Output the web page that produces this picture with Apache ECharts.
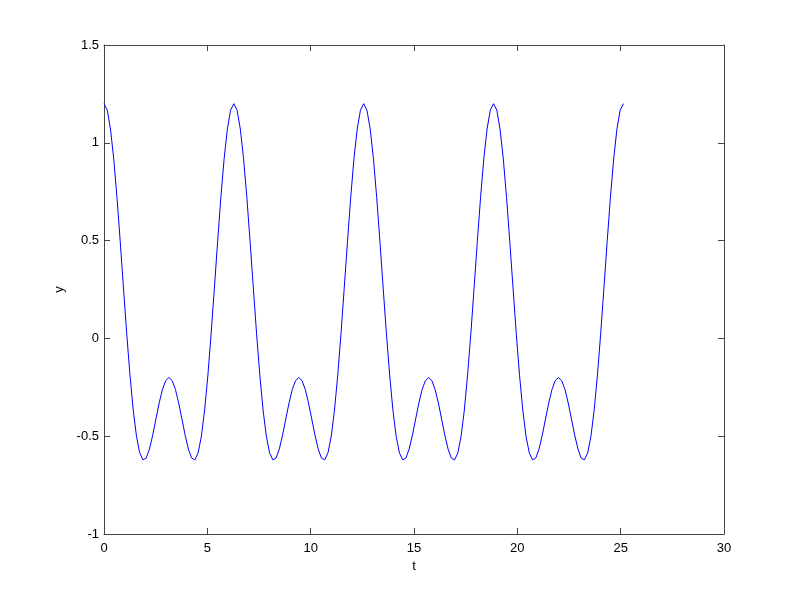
<!DOCTYPE html>
<html>
<head>
<meta charset="utf-8">
<script src="https://cdn.jsdelivr.net/npm/echarts@6/dist/echarts.min.js"></script>
<style>html,body{margin:0;padding:0;background:#fff;}#chart{width:800px;height:601px;}</style>
</head>
<body>
<div id="chart"></div>
<script>
var tValues = [
0.000,0.157,0.314,0.471,0.628,0.785,0.942,1.100,1.257,1.414,
1.571,1.728,1.885,2.042,2.199,2.356,2.513,2.670,2.827,2.985,
3.142,3.299,3.456,3.613,3.770,3.927,4.084,4.241,4.398,4.555,
4.712,4.869,5.027,5.184,5.341,5.498,5.655,5.812,5.969,6.126,
6.283,6.440,6.597,6.754,6.912,7.069,7.226,7.383,7.540,7.697,
7.854,8.011,8.168,8.325,8.482,8.639,8.796,8.954,9.111,9.268,
9.425,9.582,9.739,9.896,10.053,10.210,10.367,10.524,10.681,10.838,
10.996,11.153,11.310,11.467,11.624,11.781,11.938,12.095,12.252,12.409,
12.566,12.723,12.881,13.038,13.195,13.352,13.509,13.666,13.823,13.980,
14.137,14.294,14.451,14.608,14.765,14.923,15.080,15.237,15.394,15.551,
15.708,15.865,16.022,16.179,16.336,16.493,16.650,16.807,16.965,17.122,
17.279,17.436,17.593,17.750,17.907,18.064,18.221,18.378,18.535,18.692,
18.850,19.007,19.164,19.321,19.478,19.635,19.792,19.949,20.106,20.263,
20.420,20.577,20.735,20.892,21.049,21.206,21.363,21.520,21.677,21.834,
21.991,22.148,22.305,22.462,22.619,22.777,22.934,23.091,23.248,23.405,
23.562,23.719,23.876,24.033,24.190,24.347,24.504,24.662,24.819,24.976,
25.133
];
var yValues = [
1.200,1.167,1.070,0.918,0.721,0.495,0.257,0.024,-0.188,-0.366,
-0.500,-0.585,-0.621,-0.612,-0.566,-0.495,-0.412,-0.330,-0.261,-0.216,
-0.200,-0.216,-0.261,-0.330,-0.412,-0.495,-0.566,-0.612,-0.621,-0.585,
-0.500,-0.366,-0.188,0.024,0.257,0.495,0.721,0.918,1.070,1.167,
1.200,1.167,1.070,0.918,0.721,0.495,0.257,0.024,-0.188,-0.366,
-0.500,-0.585,-0.621,-0.612,-0.566,-0.495,-0.412,-0.330,-0.261,-0.216,
-0.200,-0.216,-0.261,-0.330,-0.412,-0.495,-0.566,-0.612,-0.621,-0.585,
-0.500,-0.366,-0.188,0.024,0.257,0.495,0.721,0.918,1.070,1.167,
1.200,1.167,1.070,0.918,0.721,0.495,0.257,0.024,-0.188,-0.366,
-0.500,-0.585,-0.621,-0.612,-0.566,-0.495,-0.412,-0.330,-0.261,-0.216,
-0.200,-0.216,-0.261,-0.330,-0.412,-0.495,-0.566,-0.612,-0.621,-0.585,
-0.500,-0.366,-0.188,0.024,0.257,0.495,0.721,0.918,1.070,1.167,
1.200,1.167,1.070,0.918,0.721,0.495,0.257,0.024,-0.188,-0.366,
-0.500,-0.585,-0.621,-0.612,-0.566,-0.495,-0.412,-0.330,-0.261,-0.216,
-0.200,-0.216,-0.261,-0.330,-0.412,-0.495,-0.566,-0.612,-0.621,-0.585,
-0.500,-0.366,-0.188,0.024,0.257,0.495,0.721,0.918,1.070,1.167,
1.200
];
var xAxisName = 't';
var yAxisName = 'y';

var pts = tValues.map(function (t, i) { return [t, yValues[i]]; });

var font = { fontFamily: 'Liberation Sans, Arial, sans-serif', fontSize: 13, color: '#000' };
var axisLine = { show: true, onZero: false, lineStyle: { color: '#444', width: 1 } };
var tick = { show: true, inside: true, length: 6, lineStyle: { color: '#444', width: 1 } };

var chart = echarts.init(document.getElementById('chart'), null, { renderer: 'canvas' });
chart.setOption({
  animation: false,
  backgroundColor: '#fff',
  grid: { left: 104, right: 76, top: 45, bottom: 67, containLabel: false },
  xAxis: [
    { type: 'value', min: 0, max: 30, interval: 5, position: 'bottom',
      name: xAxisName, nameLocation: 'middle', nameGap: 26,
      nameTextStyle: font,
      axisLine: axisLine, axisTick: tick, splitLine: { show: false },
      axisLabel: Object.assign({ margin: 8 }, font) },
    { type: 'value', min: 0, max: 30, interval: 5, position: 'top',
      axisLine: axisLine, axisTick: tick, splitLine: { show: false },
      axisLabel: { show: false } }
  ],
  yAxis: [
    { type: 'value', min: -1, max: 1.5, interval: 0.5, position: 'left',
      name: yAxisName, nameLocation: 'middle', nameGap: 34,
      nameTextStyle: font,
      axisLine: axisLine, axisTick: tick, splitLine: { show: false },
      axisLabel: Object.assign({ margin: 5 }, font) },
    { type: 'value', min: -1, max: 1.5, interval: 0.5, position: 'right',
      axisLine: axisLine, axisTick: tick, splitLine: { show: false },
      axisLabel: { show: false } }
  ],
  series: [{
    type: 'line', data: pts, xAxisIndex: 0, yAxisIndex: 0,
    showSymbol: false, symbol: 'none', smooth: false,
    lineStyle: { color: '#0000ff', width: 1 }
  }]
});
</script>
</body>
</html>
